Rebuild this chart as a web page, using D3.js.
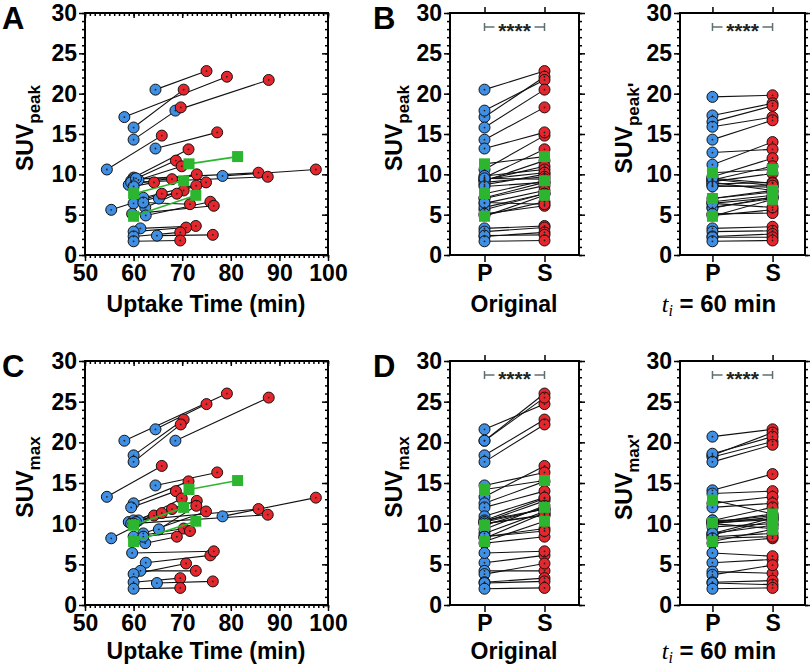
<!DOCTYPE html>
<html lang="en">
<head>
<meta charset="utf-8">
<title>SUV vs uptake time</title>
<style>
  body { margin: 0; background: #fff; }
  text { font-family: "Liberation Sans", Arial, Helvetica, sans-serif; font-weight: bold; }
</style>
<script src="https://cdn.jsdelivr.net/npm/d3@7"></script>
</head>
<body>
<svg id="fig" width="810" height="670"></svg>
<script>
// one entry per patient; the last three are the highlighted (green) patients
var marked  = [0,0,0,0,0,0,0,0,0,0,0,0,0,0,0,0,0,0,0,0,0,0,0,0,0,0,0,0,0,1,1,1];
var tP      = [64.5,58.1,68.6,60.0,60.0,54.5,64.5,60.0,59.5,61.0,59.0,78.3,60.0,59.5,60.5,60.0,62.0,65.2,60.0,55.4,62.4,62.5,59.7,62.0,61.4,60.0,60.0,64.8,60.0,71.4,60.0,60.0];
var tS      = [75.0,79.2,87.8,70.3,69.7,65.8,77.2,71.3,68.7,69.9,73.0,97.5,85.7,87.6,67.9,64.2,74.9,72.9,70.3,65.8,68.9,75.8,76.5,71.6,72.8,70.8,69.6,76.3,69.6,81.4,70.3,72.8];
var peakP   = [20.5,17.1,17.9,15.8,14.3,10.6,13.2,9.6,9.2,9.3,8.7,9.8,9.4,9.0,9.5,8.5,7.1,7.0,6.4,5.6,5.9,4.9,5.1,6.5,3.3,2.9,2.3,2.4,1.7,11.3,7.6,4.8];
var peakS   = [22.8,22.1,21.7,20.5,18.3,14.8,15.2,13.1,11.7,11.0,10.0,10.6,10.2,9.7,9.4,9.0,9.0,8.6,8.0,7.6,7.6,6.6,6.1,6.3,3.6,3.4,2.8,2.5,1.8,12.2,9.2,7.4];
var maxP    = [21.6,20.2,20.2,18.4,17.6,13.3,14.7,12.5,12.0,10.4,10.2,10.9,10.4,10.0,10.2,10.0,8.8,9.3,8.4,8.2,7.6,5.2,6.4,8.4,4.2,3.8,2.8,2.7,2.0,14.2,9.8,7.8];
var maxS    = [24.7,26.0,25.5,22.8,22.2,17.1,16.3,15.2,14.0,13.1,12.8,13.2,11.8,11.1,11.8,11.0,11.5,12.2,9.4,11.3,8.4,6.1,6.6,9.1,4.2,5.1,3.3,2.9,2.1,15.3,12.0,10.3];
var peakP60 = [19.6,17.3,16.5,15.9,14.3,11.2,12.7,9.7,9.3,9.1,8.8,8.6,9.4,9.0,9.5,8.5,7.0,6.6,6.4,5.9,5.8,4.9,5.1,6.4,3.3,2.9,2.3,2.2,1.7,10.2,7.0,4.8];
var peakS60 = [19.8,18.8,18.5,17.1,16.7,14.0,13.1,12.0,11.0,10.1,9.0,8.4,8.6,8.0,8.9,8.6,7.8,7.4,7.1,7.0,7.2,5.6,5.2,5.9,3.5,3.0,2.6,2.2,1.8,10.6,8.0,6.9];
var maxP60  = [20.7,18.4,18.2,18.6,17.6,14.1,13.7,12.5,12.0,10.4,10.2,9.6,10.4,10.0,10.1,10.0,8.8,8.6,8.4,8.8,7.6,5.2,6.4,8.2,4.1,3.7,2.8,2.7,2.0,12.9,10.1,7.8];
var maxS60  = [21.6,21.2,20.1,20.7,19.7,16.1,14.0,13.3,12.5,12.0,11.0,10.0,10.5,9.4,11.2,10.8,9.8,10.4,8.8,10.7,8.2,5.6,6.0,8.4,3.9,4.9,3.0,2.5,2.1,11.2,10.5,9.3];

var yTicks = [0,5,10,15,20,25,30];
var xTicks = [50,60,70,80,90,100];
var groups = ['P','S'];

var blue = '#3f8fe4', red = '#e5272d', green = '#2cb52e';
var svg = d3.select('#fig');
var idx = d3.range(tP.length);
var plain = idx.filter(function(i) { return !marked[i]; });
var flagged = idx.filter(function(i) { return marked[i]; });

function styleAxis(g) {
	g.select('.domain').remove();
	g.selectAll('line').attr('stroke', '#000').attr('stroke-width', 1.5);
	g.selectAll('text').attr('font-family', '"Liberation Sans", Arial, sans-serif')
		.attr('font-weight', 'bold').attr('font-size', 23).attr('fill', '#000');
}

function dots(g, pts, col) {
	g.selectAll(null).data(pts).enter().append('circle')
		.attr('cx', function(d) { return d[0]; }).attr('cy', function(d) { return d[1]; })
		.attr('r', 5.5).attr('fill', col).attr('stroke', '#111').attr('stroke-width', 1);
	g.selectAll(null).data(pts).enter().append('circle')
		.attr('cx', function(d) { return d[0]; }).attr('cy', function(d) { return d[1]; })
		.attr('r', 0.9).attr('fill', '#222');
}

function squares(g, pts) {
	g.selectAll(null).data(pts).enter().append('rect')
		.attr('x', function(d) { return d[0] - 5.5; }).attr('y', function(d) { return d[1] - 5.5; })
		.attr('width', 11).attr('height', 11).attr('fill', green);
}

function yAxes(g, y, xl, xr, rightOut) {
	var minor = d3.range(0, 31, 1);
	g.append('g').attr('transform', 'translate(' + xl + ',0)')
		.call(d3.axisLeft(y).tickValues(yTicks).tickSize(6).tickSizeOuter(0).tickPadding(2)).call(styleAxis);
	g.append('g').attr('transform', 'translate(' + xl + ',0)')
		.call(d3.axisLeft(y).tickValues(minor).tickSize(3).tickSizeOuter(0).tickFormat('')).call(styleAxis);
	var s = rightOut ? 1 : -1;
	g.append('g').attr('transform', 'translate(' + xr + ',0)')
		.call(d3.axisRight(y).tickValues(yTicks).tickSize(6 * s).tickSizeOuter(0).tickFormat('')).call(styleAxis);
	g.append('g').attr('transform', 'translate(' + xr + ',0)')
		.call(d3.axisRight(y).tickValues(minor).tickSize(3 * s).tickSizeOuter(0).tickFormat('')).call(styleAxis);
}

function yTitle(cx, cy, sub, prime) {
	var t = svg.append('text').attr('transform', 'translate(' + cx + ',' + cy + ') rotate(-90)')
		.attr('text-anchor', 'middle').attr('font-size', 23);
	t.append('tspan').text('SUV');
	t.append('tspan').attr('font-size', 17).attr('dy', 7).text(sub);
	if (prime) t.append('tspan').attr('font-size', 20).attr('dy', 3).text("'");
}

function letter(x, y, s) {
	svg.append('text').attr('x', x).attr('y', y).attr('font-size', 31).text(s);
}

function scatterPanel(top, bottom, vP, vS, sub, lab, titleY) {
	var x = d3.scaleLinear().domain([50, 100]).range([85, 328]);
	var y = d3.scaleLinear().domain([0, 30]).range([bottom, top]);
	var g = svg.append('g');

	g.selectAll(null).data(plain).enter().append('line')
		.attr('x1', function(i) { return x(tP[i]); }).attr('y1', function(i) { return y(vP[i]); })
		.attr('x2', function(i) { return x(tS[i]); }).attr('y2', function(i) { return y(vS[i]); })
		.attr('stroke', '#111').attr('stroke-width', 1.1);
	dots(g, plain.map(function(i) { return [x(tP[i]), y(vP[i])]; }), blue);
	dots(g, plain.map(function(i) { return [x(tS[i]), y(vS[i])]; }), red);
	g.selectAll(null).data(flagged).enter().append('line')
		.attr('x1', function(i) { return x(tP[i]); }).attr('y1', function(i) { return y(vP[i]); })
		.attr('x2', function(i) { return x(tS[i]); }).attr('y2', function(i) { return y(vS[i]); })
		.attr('stroke', green).attr('stroke-width', 1.6);
	squares(g, flagged.map(function(i) { return [x(tP[i]), y(vP[i])]; }));
	squares(g, flagged.map(function(i) { return [x(tS[i]), y(vS[i])]; }));

	yAxes(g, y, 85, 328, false);
	var minorX = d3.range(50, 101, 1);
	g.append('g').attr('transform', 'translate(0,' + bottom + ')')
		.call(d3.axisBottom(x).tickValues(xTicks).tickSize(6).tickSizeOuter(0).tickPadding(4)).call(styleAxis);
	g.append('g').attr('transform', 'translate(0,' + bottom + ')')
		.call(d3.axisBottom(x).tickValues(minorX).tickSize(3).tickSizeOuter(0).tickFormat('')).call(styleAxis);
	g.append('g').attr('transform', 'translate(0,' + top + ')')
		.call(d3.axisTop(x).tickValues(xTicks).tickSize(-5).tickSizeOuter(0).tickFormat('')).call(styleAxis);
	g.append('g').attr('transform', 'translate(0,' + top + ')')
		.call(d3.axisTop(x).tickValues(minorX).tickSize(-3).tickSizeOuter(0).tickFormat('')).call(styleAxis);
	g.append('rect').attr('x', 85).attr('y', top).attr('width', 243).attr('height', bottom - top)
		.attr('fill', 'none').attr('stroke', '#000').attr('stroke-width', 2);

	yTitle(33, (top + bottom) / 2 - 6, sub, false);
	svg.append('text').attr('x', 206).attr('y', titleY).attr('text-anchor', 'middle')
		.attr('font-size', 23).text('Uptake Time (min)');
	letter(2, top + 16, lab);
}

function pairedPanel(x0, x1, pad, top, bottom, vP, vS, sub, prime, lab) {
	var x = d3.scalePoint().domain(groups).range([x0, x1]).padding(pad);
	var y = d3.scaleLinear().domain([0, 30]).range([bottom, top]);
	var g = svg.append('g');

	g.selectAll(null).data(idx).enter().append('line')
		.attr('x1', x('P')).attr('y1', function(i) { return y(vP[i]); })
		.attr('x2', x('S')).attr('y2', function(i) { return y(vS[i]); })
		.attr('stroke', '#111').attr('stroke-width', 1.1);
	dots(g, plain.map(function(i) { return [x('P'), y(vP[i])]; }), blue);
	dots(g, plain.map(function(i) { return [x('S'), y(vS[i])]; }), red);
	squares(g, flagged.map(function(i) { return [x('P'), y(vP[i])]; }));
	squares(g, flagged.map(function(i) { return [x('S'), y(vS[i])]; }));

	yAxes(g, y, x0, x1, true);
	g.append('g').attr('transform', 'translate(0,' + bottom + ')')
		.call(d3.axisBottom(x).tickSize(7).tickSizeOuter(0).tickPadding(3)).call(styleAxis);
	g.append('g').attr('transform', 'translate(0,' + top + ')')
		.call(d3.axisTop(x).tickSize(6).tickSizeOuter(0).tickFormat('')).call(styleAxis);
	g.append('rect').attr('x', x0).attr('y', top).attr('width', x1 - x0).attr('height', bottom - top)
		.attr('fill', 'none').attr('stroke', '#000').attr('stroke-width', 2);

	// significance bracket
	var by = top + 14, xa = x('P'), xb = x('S'), mid = (xa + xb) / 2;
	var br = g.append('g').attr('stroke', '#5f6e6e').attr('stroke-width', 1.5);
	br.append('line').attr('x1', xa).attr('x2', mid - 20).attr('y1', by).attr('y2', by);
	br.append('line').attr('x1', mid + 20).attr('x2', xb).attr('y1', by).attr('y2', by);
	br.append('line').attr('x1', xa).attr('x2', xa).attr('y1', by - 4).attr('y2', by + 4);
	br.append('line').attr('x1', xb).attr('x2', xb).attr('y1', by - 4).attr('y2', by + 4);
	g.append('text').attr('x', mid).attr('y', by + 11).attr('text-anchor', 'middle')
		.attr('font-size', 21).attr('fill', '#222').text('****');

	yTitle(x0 - 48, (top + bottom) / 2 - 6, sub, prime);
	if (lab) letter(373, top + 16, lab);
}

function originalTitle(y) {
	svg.append('text').attr('x', 514).attr('y', y).attr('text-anchor', 'middle').attr('font-size', 23).text('Original');
}
function sixtyTitle(y) {
	var t = svg.append('text').attr('x', 719).attr('y', y).attr('text-anchor', 'middle').attr('font-size', 24);
	t.append('tspan').attr('font-family', '"Liberation Serif", serif').attr('font-style', 'italic').attr('font-weight', 'normal').text('t');
	t.append('tspan').attr('font-family', '"Liberation Serif", serif').attr('font-style', 'italic').attr('font-weight', 'normal')
		.attr('font-size', 16).attr('dy', 4).text('i');
	t.append('tspan').attr('dy', -4).text(' = 60 min');
}

scatterPanel(13, 255, peakP, peakS, 'peak', 'A', 312);
scatterPanel(361, 605, maxP, maxS, 'max', 'C', 659);
pairedPanel(450, 579, 0.575, 13, 255, peakP, peakS, 'peak', false, 'B');
pairedPanel(680, 805, 0.54, 13, 255, peakP60, peakS60, 'peak', true, null);
pairedPanel(450, 579, 0.575, 361, 605, maxP, maxS, 'max', false, 'D');
pairedPanel(680, 805, 0.54, 361, 605, maxP60, maxS60, 'max', true, null);
originalTitle(312);
originalTitle(659);
sixtyTitle(312);
sixtyTitle(659);
</script>
</body>
</html>
